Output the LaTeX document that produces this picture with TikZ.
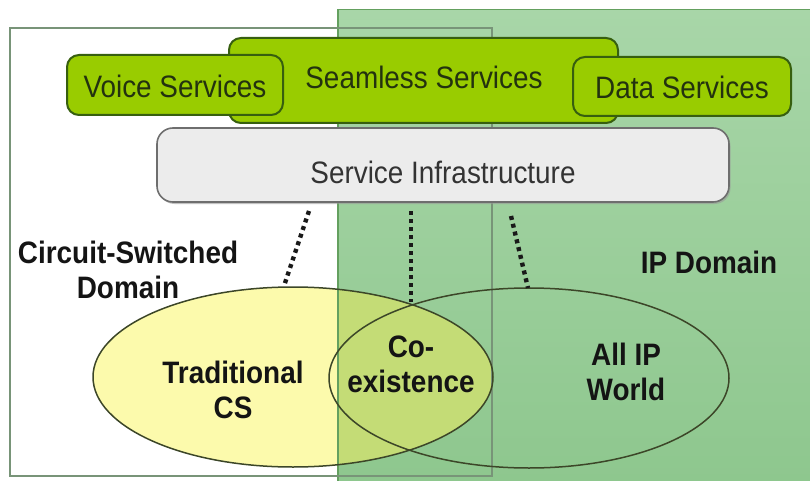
\documentclass[tikz,border=0pt]{standalone}
\usepackage{fontspec}
\setmainfont{Liberation Sans}[FakeStretch=0.9]
\usetikzlibrary{shadows,shapes.geometric}
\definecolor{ipgreentop}{RGB}{168,214,168}
\definecolor{ipgreenbot}{RGB}{142,199,142}
\definecolor{ipedge}{RGB}{100,160,95}
\definecolor{csedge}{RGB}{120,148,120}
\definecolor{svcfill}{RGB}{153,204,0}
\definecolor{svcedge}{RGB}{55,95,15}
\definecolor{svctext}{RGB}{35,50,15}
\definecolor{infrafill}{RGB}{236,236,236}
\definecolor{infraedge}{RGB}{110,110,110}
\definecolor{csyellow}{RGB}{252,250,172}
\definecolor{lensfill}{RGB}{196,220,118}
\definecolor{ellipseedge}{RGB}{60,70,40}
\begin{document}
\begin{tikzpicture}[x=1pt,y=-1pt,
  svcbox/.style={draw=svcedge, line width=2pt, fill=svcfill, rounded corners=12pt, inner sep=0pt},
  infrabox/.style={draw=infraedge, line width=1.6pt, fill=infrafill, rounded corners=16pt, inner sep=0pt,
    drop shadow={shadow xshift=1.5pt, shadow yshift=-2pt, fill=black!40, opacity=0.6}},
  svclabel/.style={font=\fontsize{31}{34}\selectfont, text=svctext, inner sep=0pt},
  infralabel/.style={font=\fontsize{31}{34}\selectfont, text=black!80, inner sep=0pt},
  boldlabel/.style={font=\fontsize{31}{35}\selectfont\bfseries, text=black!92, align=center, inner sep=0pt},
  region/.style={inner sep=0pt},
  dotline/.style={line width=4.4pt, dash pattern=on 4pt off 4pt, black!90},
  venn/.style={ellipse, draw=ellipseedge, line width=1.5pt, inner sep=0pt, minimum width=400pt, minimum height=180pt}
]
\useasboundingbox (0,0) rectangle (810,481);

% IP domain region
\node[region, top color=ipgreentop, bottom color=ipgreenbot, minimum width=474pt, minimum height=473pt] (ipdom) at (575,246.5) {};

% Traditional CS ellipse fill (yellow, turning yellow-green over the IP region)
\fill[csyellow] (293,377) ellipse [x radius=200pt, y radius=90pt];
\begin{scope}
  \clip (338,10) rectangle (810,481);
  \fill[lensfill] (293,377) ellipse [x radius=200pt, y radius=90pt];
\end{scope}

% region borders
\draw[ipedge, line width=1.4pt] (ipdom.south west) -- (ipdom.north west) -- (ipdom.north east);
\node[region, draw=csedge, line width=1.4pt, minimum width=482pt, minimum height=448pt] (csdom) at (251,252) {};

% Venn ellipses
\node[venn] (trad) at (293,377) {};
\node[venn] (allip) at (529,378) {};

% service boxes
\node[svcbox, minimum width=389pt, minimum height=85pt] (seamless) at (423.5,80.5) {};
\node[svcbox, minimum width=216pt, minimum height=60pt] (voice) at (175,85) {};
\node[svcbox, minimum width=218pt, minimum height=59pt] (data) at (682,86.5) {};
\node[svclabel] (seamlesstext) at (424,77) {Seamless Services};
\node[svclabel] (voicetext) at (175,86) {Voice Services};
\node[svclabel] (datatext) at (682,87) {Data Services};

% service infrastructure
\node[infrabox, minimum width=572pt, minimum height=74pt] (infra) at (443,165) {};
\node[infralabel] (infratext) at (443,172) {Service Infrastructure};

% dotted connectors
\coordinate (d1a) at (309,211);
\coordinate (d1b) at (284,286);
\coordinate (d2a) at (411,211);
\coordinate (d2b) at (411,302);
\coordinate (d3a) at (511,216);
\coordinate (d3b) at (528,288);
\draw[dotline] (d1a) -- (d1b);
\draw[dotline] (d2a) -- (d2b);
\draw[dotline] (d3a) -- (d3b);

% labels
\node[boldlabel] (cslabel) at (128,270) {Circuit-Switched\\Domain};
\node[boldlabel] (iplabel) at (709,262) {IP Domain};
\node[boldlabel] (tradtext) at (233,390) {Traditional\\CS};
\node[boldlabel] (coexist) at (411,364) {Co-\\existence};
\node[boldlabel] (alliptext) at (626,372) {All IP\\World};
\end{tikzpicture}
\end{document}
